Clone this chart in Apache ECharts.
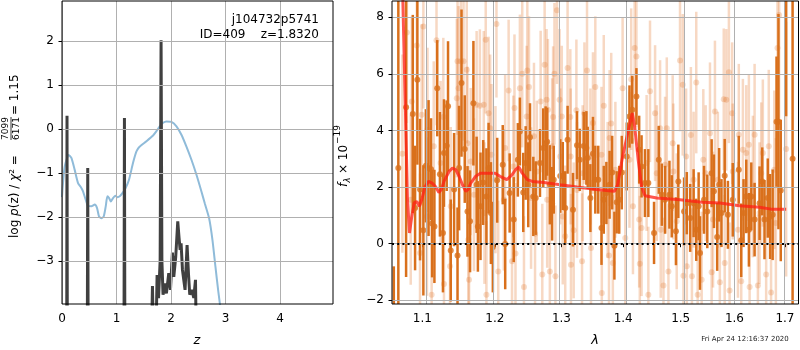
<!DOCTYPE html>
<html>
<head>
<meta charset="utf-8">
<script src="https://cdn.jsdelivr.net/npm/echarts@6/dist/echarts.min.js"></script>
<style>
html, body { margin: 0; background: #fff; }
#chart { width: 800px; height: 350px; }
</style>
</head>
<body>
<div id="chart"></div>
<script>
// ---- left panel: redshift fit ----
const zTicks = [0, 1, 2, 3, 4]
const logpTicks = [-3, -2, -1, 0, 1, 2]
const zRange = [0, 4.97]
const logpRange = [-3.98, 2.91]

// blue curve [z, value]
const pzSmooth = [[0.0,-1.55],[0.013,-1.31],[0.05,-0.85],[0.123,-0.59],[0.172,-0.66],[0.233,-0.93],[0.294,-1.23],
  [0.355,-1.34],[0.386,-1.42],[0.435,-1.61],[0.478,-1.75],[0.539,-1.76],[0.60,-1.72],[0.643,-1.80],[0.679,-1.99],
  [0.722,-2.03],[0.765,-1.99],[0.802,-1.76],[0.832,-1.53],[0.863,-1.57],[0.894,-1.65],[0.936,-1.57],[0.979,-1.52],
  [1.016,-1.55],[1.059,-1.53],[1.108,-1.46],[1.169,-1.34],[1.23,-1.15],[1.303,-0.77],[1.365,-0.51],[1.426,-0.40],
  [1.548,-0.28],[1.67,-0.15],[1.732,-0.05],[1.793,0.06],[1.854,0.14],[1.915,0.17],[2.007,0.16],[2.099,0.06],
  [2.19,-0.13],[2.282,-0.40],[2.374,-0.70],[2.466,-1.04],[2.557,-1.42],[2.618,-1.69],[2.698,-2.03],[2.759,-2.52],
  [2.814,-3.13],[2.863,-3.66],[2.894,-3.96],[2.93,-4.5]]

// dark spiky curve [z, log p(z)]
const pzSpikes = [[0.0,-6],[0.085,-6],[0.092,0.30],[0.099,-6],[0.462,-6],[0.472,-0.89],[0.482,-6],
  [1.135,-6],[1.145,0.25],[1.155,-6],[1.645,-4.5],[1.659,-3.57],[1.675,-4.6],[1.73,-4.3],[1.744,-3.32],
  [1.77,-3.85],[1.80,-3.0],[1.817,2.02],[1.832,-3.0],[1.853,-3.77],[1.89,-3.51],[1.915,-3.74],[1.958,-3.28],
  [1.989,-3.66],[2.025,-2.81],[2.05,-3.36],[2.086,-2.90],[2.123,-2.10],[2.147,-2.48],[2.166,-2.75],[2.184,-2.60],
  [2.209,-3.20],[2.233,-3.43],[2.257,-3.66],[2.294,-2.64],[2.319,-3.28],[2.343,-3.77],[2.38,-3.66],[2.417,-3.84],
  [2.448,-3.43],[2.46,-4.5],[4.97,-6]]

// ---- right panel: spectrum ----
const lamTicks = [1.1, 1.2, 1.3, 1.4, 1.5, 1.6, 1.7]
const fluxTicks = [-2, 0, 2, 4, 6, 8]
const lamRange = [1.0607, 1.7279]
const fluxRange = [-2.13, 8.57]

// binned spectrum [lambda, flux, err]
const binned = [[1.063,-4.0,3.2],[1.0688,2.67,12],[1.0788,4.82,6],[1.0875,4.58,3.5],[1.0905,1.26,2.2],[1.0935,5.79,3.0],
  [1.097,1.91,2.5],[1.1014,0.47,2.3],[1.1047,2.75,2.0],[1.1083,2.67,2.4],[1.1116,2.63,1.8],[1.113,0.71,1.9],
  [1.1161,0.61,2.0],[1.1199,5.49,1.7],[1.1235,2.45,2.2],[1.1276,0.38,2.1],[1.129,3.2,1.9],[1.1327,3.46,1.6],
  [1.1345,4.85,2.3],[1.1382,-0.24,1.8],[1.1428,1.91,2.0],[1.1475,-0.42,1.7],[1.1497,2.67,2.2],[1.153,5.67,2.6],
  [1.1575,3.34,1.9],[1.1613,1.14,1.6],[1.1649,0.79,1.8],[1.1696,4.96,2.2],[1.1741,2.08,1.7],[1.1759,0.61,1.6],
  [1.1796,1.32,1.9],[1.1834,2.16,1.5],[1.188,1.67,1.7],[1.1911,2.67,1.6],[1.1944,1.08,1.8],[1.1972,-0.12,1.6],
  [1.2035,2.24,1.5],[1.2115,2.79,1.4],[1.2151,-0.01,1.6],[1.2216,1.79,1.4],[1.2276,0.85,1.5],[1.2337,2.96,1.3],
  [1.2367,3.96,1.2],[1.2417,1.81,1.4],[1.2453,2.85,1.3],[1.2492,2.08,1.5],[1.2518,3.76,1.2],[1.2568,1.67,1.4],
  [1.2604,1.61,1.3],[1.2669,2.85,1.2],[1.2719,3.38,1.4],[1.2755,3.55,1.3],[1.2779,3.6,1.2],[1.282,2.08,1.4],
  [1.2855,1.41,1.3],[1.288,2.26,1.2],[1.2981,2.39,1.3],[1.302,2.39,1.2],[1.3059,1.26,1.3],[1.3096,3.67,1.2],
  [1.3181,1.2,1.3],[1.3245,3.48,1.2],[1.3288,2.96,1.1],[1.3352,3.45,1.2],[1.3395,3.38,1.3],[1.3416,3.03,1.1],
  [1.3459,1.61,1.2],[1.3501,3.18,1.3],[1.3539,2.26,1.2],[1.3587,2.26,1.2],[1.364,0.55,1.3],[1.3677,1.55,1.2],
  [1.372,1.79,1.1],[1.3773,2.08,1.2],[1.3816,2.51,1.3],[1.3853,-0.07,1.2],[1.3891,1.46,1.1],[1.3933,1.55,1.2],
  [1.3976,2.51,1.3],[1.406,3.08,1.2],[1.4106,4.49,1.1],[1.4153,4.73,1.2],[1.4224,5.2,1.0],[1.4271,3.32,1.2],
  [1.4312,2.73,1.1],[1.437,2.14,1.2],[1.4429,2.14,1.2],[1.4528,0.38,1.1],[1.4611,2.96,1.2],[1.4664,1.73,1.1],
  [1.4722,1.55,1.2],[1.4799,1.73,1.2],[1.484,1.32,1.1],[1.4915,0.44,1.2],[1.4958,2.2,1.3],[1.5061,1.14,1.2],
  [1.5111,1.43,1.1],[1.5172,0.91,1.2],[1.5235,1.43,1.2],[1.5283,0.49,1.1],[1.5327,1.32,1.2],[1.5352,-0.33,1.3],
  [1.5426,1.55,1.2],[1.5487,1.14,1.3],[1.5568,2.49,1.2],[1.5611,1.85,1.3],[1.5672,0.24,1.2],[1.5709,2.08,1.3],
  [1.5753,1.08,1.2],[1.5814,2.4,1.3],[1.5875,1.02,1.2],[1.5968,1.55,1.3],[1.6084,2.61,1.2],[1.6131,0.12,1.3],
  [1.6176,1.08,1.2],[1.6229,1.67,1.3],[1.628,0.49,1.3],[1.6327,1.67,1.2],[1.6392,0.85,1.3],[1.649,1.43,1.3],
  [1.6543,2.2,1.2],[1.6588,0.85,1.4],[1.6653,1.61,1.4],[1.67,0.96,1.5],[1.6751,1.02,1.6],[1.6829,4.31,2.3],
  [1.6868,4.31,3.8],[1.6915,1.88,2.5],[1.7025,10.0,5.5],[1.7157,3.0,20]]

// unbinned spectrum [lambda, flux, err]
const unbinned = [[1.074,3.18,3.5],[1.0798,7.46,3.2],[1.0848,1.55,3.0],[1.0862,5.02,3.0],[1.0927,7.0,3.0],
  [1.097,-0.33,2.8],[1.0992,4.55,3.2],[1.1014,7.67,2.9],[1.1061,0.96,2.8],[1.1069,4.02,2.9],[1.1124,-1.8,2.8],
  [1.1152,3.44,3.0],[1.1189,7.18,3.0],[1.1244,2.85,2.9],[1.1281,4.47,2.8],[1.129,-1.42,2.7],[1.1372,-0.8,2.8],
  [1.1382,1.32,2.8],[1.1465,5.14,2.8],[1.1475,6.44,2.6],[1.1489,5.49,2.9],[1.1521,6.44,2.7],[1.1558,6.44,2.8],
  [1.1603,6.14,2.6],[1.1613,3.55,2.7],[1.1625,0.14,2.6],[1.1635,-1.27,2.8],[1.1658,2.9,2.6],[1.1704,1.73,2.7],
  [1.1741,4.91,2.6],[1.1787,4.87,2.7],[1.1842,4.91,2.6],[1.1852,1.08,2.5],[1.187,7.2,2.6],[1.188,-1.8,2.6],
  [1.1911,4.61,2.7],[1.1934,4.08,2.6],[1.1952,3.14,2.5],[1.201,2.26,2.6],[1.2024,7.76,2.6],[1.205,-0.98,2.5],
  [1.2131,1.55,2.5],[1.215,3.38,2.6],[1.2201,5.41,2.5],[1.2251,-0.62,2.6],[1.227,2.73,2.5],[1.2287,4.79,2.6],
  [1.2302,-0.35,2.5],[1.2367,5.49,2.6],[1.2402,6.0,2.6],[1.2428,-1.53,2.5],[1.2468,4.49,2.5],[1.2478,6.12,2.6],
  [1.2503,5.53,2.5],[1.2534,1.61,2.5],[1.2578,3.79,2.6],[1.2594,0.35,2.5],[1.262,2.55,2.5],[1.2679,5.02,2.5],
  [1.2704,-1.09,2.5],[1.274,6.32,2.6],[1.277,5.08,2.5],[1.2779,1.55,2.4],[1.279,4.73,2.5],[1.282,-0.98,2.5],
  [1.2855,3.44,2.4],[1.287,4.47,2.5],[1.2891,6.0,2.5],[1.2906,-1.15,2.5],[1.293,8.24,2.6],[1.297,5.08,2.5],
  [1.2981,3.08,2.4],[1.3005,4.49,2.5],[1.302,0.96,2.4],[1.3059,0.26,2.5],[1.3096,6.2,2.5],[1.3139,4.47,2.4],
  [1.3145,3.08,2.4],[1.3149,-0.74,2.5],[1.3192,0.47,2.4],[1.3235,4.71,2.5],[1.3245,1.9,2.4],[1.3325,-0.62,2.4],
  [1.3335,2.49,2.4],[1.3363,4.61,2.5],[1.3405,6.12,2.5],[1.3459,3.08,2.4],[1.3469,-0.15,2.4],[1.3501,4.26,2.5],
  [1.3539,5.53,2.5],[1.364,3.14,2.4],[1.3645,-1.74,2.4],[1.3677,4.87,2.5],[1.3741,1.9,2.4],[1.3763,-0.42,2.4],
  [1.3773,3.73,2.4],[1.38,4.24,2.5],[1.3827,-0.68,2.4],[1.3869,2.61,2.4],[1.399,5.49,2.5],[1.4035,0.2,2.4],
  [1.4106,2.96,2.4],[1.4135,5.81,2.5],[1.4165,1.32,2.4],[1.4194,6.91,2.5],[1.4224,6.61,2.5],[1.4271,0.85,2.4],
  [1.4282,-0.71,2.4],[1.4312,0.55,2.4],[1.4399,2.85,2.4],[1.4429,-1.8,2.4],[1.4458,5.38,2.5],[1.4546,4.61,2.4],
  [1.4576,2.49,2.4],[1.4634,4.08,2.4],[1.4645,0.49,2.4],[1.4693,-1.48,2.4],[1.4722,2.79,2.4],[1.4752,4.08,2.5],
  [1.4781,-0.98,2.4],[1.4857,3.55,2.4],[1.4869,2.55,2.4],[1.4929,0.79,2.4],[1.4988,6.47,2.5],[1.5037,5.61,2.5],
  [1.505,-1.13,2.4],[1.5098,3.08,2.4],[1.5111,-0.8,2.4],[1.5185,3.84,2.4],[1.5204,-1.15,2.4],[1.5235,2.26,2.4],
  [1.5283,5.69,2.5],[1.5309,-1.8,2.4],[1.5383,-1.27,2.4],[1.5413,2.96,2.5],[1.5457,2.49,2.4],[1.5537,3.9,2.5],
  [1.5568,-1.01,2.4],[1.5594,0.85,2.4],[1.563,4.67,2.5],[1.5685,2.26,2.4],[1.5722,-1.36,2.4],[1.5796,5.1,2.5],
  [1.5814,-0.68,2.4],[1.5845,5.08,2.5],[1.5894,6.05,2.5],[1.5907,-1.65,2.4],[1.5956,4.61,2.5],[1.5968,2.55,2.4],
  [1.6068,0.49,2.4],[1.6084,3.85,2.5],[1.6131,-1.33,2.4],[1.6163,3.32,2.5],[1.6229,3.2,2.4],[1.628,3.49,2.5],
  [1.6294,-1.53,2.4],[1.6358,2.02,2.5],[1.6392,3.85,2.5],[1.6457,-1.48,2.5],[1.649,1.08,2.5],[1.6523,2.49,2.5],
  [1.6555,3.2,2.6],[1.6621,-1.09,2.6],[1.6673,3.44,2.7],[1.6719,-1.72,2.7],[1.6784,2.61,2.8],[1.6816,0.73,3.0],
  [1.6849,6.91,3.5],[1.6882,8.08,4.0],[1.7025,3.34,4.5]]

// best-fit model [lambda, flux]
const model = [[1.0746,8.6],[1.0776,5.08],[1.0806,1.55],[1.0832,0.38],[1.0862,0.96],[1.0893,1.44],[1.0927,1.49],
  [1.0961,1.32],[1.0992,1.55],[1.1037,2.02],[1.1083,2.2],[1.113,2.14],[1.1175,2.02],[1.1221,1.81],[1.1254,1.91],
  [1.129,2.2],[1.1359,2.55],[1.1405,2.67],[1.1451,2.61],[1.1497,2.38],[1.1543,2.08],[1.1589,1.85],[1.1621,1.91],
  [1.1658,2.14],[1.1727,2.38],[1.1796,2.49],[1.1889,2.49],[1.2004,2.49],[1.2075,2.38],[1.2175,2.26],[1.2251,2.43],
  [1.2302,2.61],[1.2352,2.71],[1.2402,2.49],[1.2478,2.26],[1.2553,2.2],[1.2729,2.16],[1.2981,2.08],[1.3245,2.0],
  [1.3555,1.91],[1.3853,1.85],[1.3907,2.08],[1.399,3.08],[1.4077,3.91],[1.4153,4.61],[1.4194,4.14],[1.4254,2.96],
  [1.4312,2.02],[1.437,1.69],[1.4576,1.61],[1.4988,1.55],[1.5389,1.46],[1.5722,1.44],[1.6097,1.34],[1.649,1.29],
  [1.6719,1.22],[1.7025,1.22]]

// wavelength axis is logarithmic -> plot ln(lambda) on a value axis
const ln = Math.log
const minus = v => (v < 0 ? '\u2212' + Math.abs(v) : String(v))
const FONT = 'DejaVu Sans'

const darkOrange = '#d9701c'
const lightOrange = 'rgba(224,112,32,0.27)'
const gridGray = '#b0b0b0'

function errorBars(color, width) {
  return function (params, api) {
    const x = api.value(0), y = api.value(1), e = api.value(2)
    const a = api.coord([x, y - e]), b = api.coord([x, y + e])
    return {
      type: 'line',
      shape: { x1: a[0], y1: a[1], x2: b[0], y2: b[1] },
      style: { stroke: color, lineWidth: width }
    }
  }
}

function gridLines(xs, ys, z, xi) {
  return {
    type: 'line', xAxisIndex: xi, yAxisIndex: xi, data: [], z: z, silent: true,
    markLine: {
      silent: true, symbol: ['none', 'none'], label: { show: false }, animation: false,
      lineStyle: { color: gridGray, width: 1, type: 'solid' },
      emphasis: { disabled: true },
      data: xs.map(v => ({ xAxis: v })).concat(ys.map(v => ({ yAxis: v })))
    }
  }
}

function axisCommon(values, fmt, margin) {
  return {
    axisLine: { show: false },
    splitLine: { show: false },
    axisTick: { show: true, customValues: values, length: 3.5, lineStyle: { color: '#000', width: 1 } },
    axisLabel: { customValues: values, formatter: fmt, color: '#000', fontSize: 12, fontFamily: FONT, margin: margin }
  }
}

const chart = echarts.init(document.getElementById('chart'))
chart.setOption({
  animation: false,
  grid: [
    { left: 62, top: 1, width: 271, height: 303 },
    { left: 392, top: 1, width: 406.5, height: 303 }
  ],
  xAxis: [
    Object.assign({ gridIndex: 0, type: 'value', min: zRange[0], max: zRange[1] },
      axisCommon(zTicks, v => minus(v), 9)),
    Object.assign({ gridIndex: 1, type: 'value', min: ln(lamRange[0]), max: ln(lamRange[1]) },
      axisCommon(lamTicks.map(ln), v => Math.exp(v).toFixed(1), 9))
  ],
  yAxis: [
    Object.assign({ gridIndex: 0, type: 'value', min: logpRange[0], max: logpRange[1] },
      axisCommon(logpTicks, v => minus(v), 8)),
    Object.assign({ gridIndex: 1, type: 'value', min: fluxRange[0], max: fluxRange[1] },
      axisCommon(fluxTicks, v => minus(v), 8))
  ],
  series: [
    gridLines(zTicks, logpTicks, 1, 0),
    {
      type: 'line', xAxisIndex: 0, yAxisIndex: 0, data: pzSmooth, showSymbol: false, smooth: 0.2, z: 2,
      lineStyle: { color: '#8fbbd9', width: 2 }, clip: true
    },
    {
      type: 'line', xAxisIndex: 0, yAxisIndex: 0, data: pzSpikes, showSymbol: false, z: 3,
      lineStyle: { color: '#404040', width: 3 }, clip: true
    },
    {
      type: 'custom', xAxisIndex: 1, yAxisIndex: 1, z: 1, clip: true,
      data: unbinned.map(d => [ln(d[0]), d[1], d[2]]),
      encode: { x: 0, y: 1 }, renderItem: errorBars(lightOrange, 2.5)
    },
    {
      type: 'scatter', xAxisIndex: 1, yAxisIndex: 1, z: 1, symbolSize: 6,
      data: unbinned.map(d => [ln(d[0]), d[1]]),
      itemStyle: { color: 'rgba(224,112,32,0.3)' }
    },
    {
      type: 'custom', xAxisIndex: 1, yAxisIndex: 1, z: 2, clip: true,
      data: binned.map(d => [ln(d[0]), d[1], d[2]]),
      encode: { x: 0, y: 1 }, renderItem: errorBars(darkOrange, 2.5)
    },
    {
      type: 'scatter', xAxisIndex: 1, yAxisIndex: 1, z: 2, symbolSize: 6,
      data: binned.map(d => [ln(d[0]), d[1]]),
      itemStyle: { color: darkOrange }
    },
    gridLines(lamTicks.map(ln), fluxTicks, 3, 1),
    {
      type: 'line', xAxisIndex: 1, yAxisIndex: 1, z: 4, showSymbol: false, clip: true,
      data: model.map(d => [ln(d[0]), d[1]]),
      lineStyle: { color: 'rgba(255,30,20,0.75)', width: 3 }
    },
    {
      type: 'line', xAxisIndex: 1, yAxisIndex: 1, data: [], z: 5, silent: true,
      markLine: {
        silent: true, symbol: ['none', 'none'], label: { show: false }, animation: false,
        lineStyle: { color: '#000', width: 2, type: [2, 3.2] },
        data: [{ yAxis: 0 }]
      }
    }
  ],
  graphic: [
    { type: 'rect', z: 100, shape: { x: 62, y: 1, width: 271, height: 303 }, style: { fill: null, stroke: '#000', lineWidth: 1 } },
    { type: 'rect', z: 100, shape: { x: 392, y: 1, width: 406.5, height: 303 }, style: { fill: null, stroke: '#000', lineWidth: 1 } },
    { type: 'text', z: 100, x: 319, y: 20, style: { text: 'j104732p5741', fontSize: 12, fontFamily: FONT, fill: '#000', textAlign: 'right', textVerticalAlign: 'middle' } },
    { type: 'text', z: 100, x: 319, y: 35, style: { text: 'ID=409    z=1.8320', fontSize: 12, fontFamily: FONT, fill: '#000', textAlign: 'right', textVerticalAlign: 'middle' } },
    { type: 'text', z: 100, x: 197, y: 341, style: { text: 'z', fontSize: 13, fontStyle: 'italic', fontFamily: FONT, fill: '#000', textAlign: 'center', textVerticalAlign: 'middle' } },
    { type: 'text', z: 100, x: 595, y: 341, style: { text: 'λ', fontSize: 13, fontStyle: 'italic', fontFamily: FONT, fill: '#000', textAlign: 'center', textVerticalAlign: 'middle' } },
    { type: 'text', z: 100, x: 745, y: 339, style: { text: 'Fri Apr 24 12:16:37 2020', fontSize: 7, fontFamily: FONT, fill: '#222', textAlign: 'center', textVerticalAlign: 'middle' } },
    {
      type: 'group', x: 15, y: 153, rotation: Math.PI / 2, z: 100,
      children: [
        { type: 'text', x: -85, y: 0, style: {
          text: '{n|log }{i|p}{n|(z) / }{i|χ}{n|² =}', textAlign: 'left', textVerticalAlign: 'middle',
          rich: { n: { fontSize: 12, fontFamily: FONT, fill: '#000' }, i: { fontSize: 12, fontFamily: FONT, fontStyle: 'italic', fill: '#000' } } } },
        { type: 'text', x: 24.5, y: -9.5, style: { text: '7099', fontSize: 9, fontFamily: FONT, fill: '#000', textAlign: 'center', textVerticalAlign: 'middle' } },
        { type: 'line', shape: { x1: 13, y1: -4, x2: 36, y2: -4 }, style: { stroke: '#000', lineWidth: 0.8 } },
        { type: 'text', x: 24.5, y: 2, style: { text: '6171', fontSize: 9, fontFamily: FONT, fill: '#000', textAlign: 'center', textVerticalAlign: 'middle' } },
        { type: 'text', x: 38, y: 0, style: { text: '= 1.15', fontSize: 12, fontFamily: FONT, fill: '#000', textAlign: 'left', textVerticalAlign: 'middle' } }
      ]
    },
    {
      type: 'group', x: 344, y: 155, rotation: Math.PI / 2, z: 100,
      children: [
        { type: 'text', x: -32, y: 0, style: { text: 'f', fontSize: 12, fontStyle: 'italic', fontFamily: FONT, fill: '#000', textAlign: 'left', textVerticalAlign: 'middle' } },
        { type: 'text', x: -27.5, y: 4, style: { text: 'λ', fontSize: 8.5, fontStyle: 'italic', fontFamily: FONT, fill: '#000', textAlign: 'left', textVerticalAlign: 'middle' } },
        { type: 'text', x: -19, y: 0, style: { text: '× 10', fontSize: 12, fontFamily: FONT, fill: '#000', textAlign: 'left', textVerticalAlign: 'middle' } },
        { type: 'text', x: 11, y: -6, style: { text: '\u221219', fontSize: 9, fontFamily: FONT, fill: '#000', textAlign: 'left', textVerticalAlign: 'middle' } }
      ]
    }
  ]
})
</script>
</body>
</html>
